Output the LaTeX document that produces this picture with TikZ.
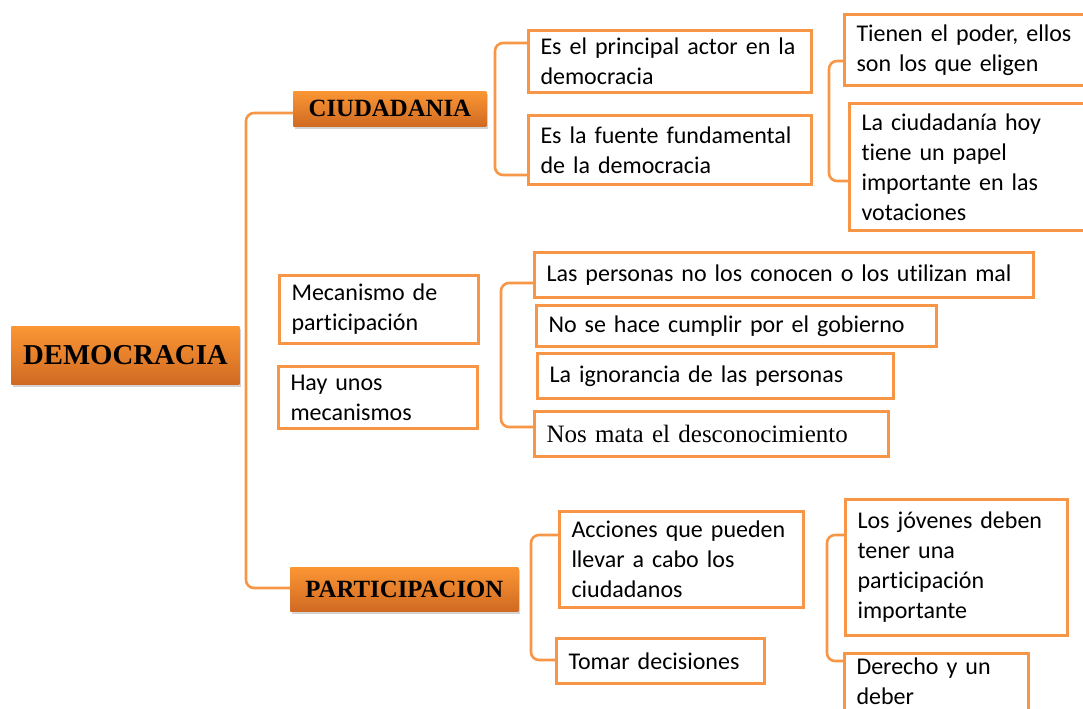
\documentclass[tikz,border=0pt]{standalone}
\usepackage{fontspec}
\setmainfont{Carlito}[Ligatures=NoCommon]
\newfontfamily\serifhd{Liberation Serif}
\usetikzlibrary{calc,shadows}
\definecolor{naranja}{RGB}{247,150,70}
\definecolor{naranjaclaro}{RGB}{251,150,52}
\definecolor{naranjaosc}{RGB}{208,106,34}

\begin{document}
\begin{tikzpicture}[x=0.5pt,y=-0.5pt,
    caja/.style={draw=naranja,line width=1.5pt,fill=white,anchor=north west,
        align=left,inner xsep=6pt,inner ysep=2pt,font=\fontsize{12}{15}\selectfont},
    titulo/.style={anchor=north west,top color=naranjaclaro,bottom color=naranjaosc,
        drop shadow={shadow xshift=1pt,shadow yshift=-1.5pt,opacity=.35},
        align=center,inner sep=0pt},
    enlace/.style={draw=naranja,line width=1.3pt,rounded corners=4pt}]
    \useasboundingbox (0,0) rectangle (1083,708);
    \clip (0,0) rectangle (1083,708);

    % titulos
    \node[titulo,minimum width=114pt,minimum height=29pt,
        font=\serifhd\bfseries\fontsize{14.4}{16}\selectfont] (dem) at (11,326) {DEMOCRACIA};
    \node[titulo,minimum width=96.5pt,minimum height=17.5pt,
        font=\serifhd\bfseries\fontsize{12.4}{14}\selectfont] (ciu) at (293,91) {CIUDADANIA};
    \node[titulo,minimum width=114pt,minimum height=22pt,
        font=\serifhd\bfseries\fontsize{12.4}{14}\selectfont] (par) at (290,567) {PARTICIPACION};

    % ciudadania
    \node[caja,text width=129.5pt,minimum height=31pt] (e1) at (527,29) {Es el principal actor en la\\democracia};
    \node[caja,text width=129.5pt,minimum height=34.5pt] (e2) at (527,114) {Es la fuente fundamental\\de la democracia};
    \node[caja,text width=113pt,minimum height=35.5pt] (t1) at (843,13) {Tienen el poder, ellos\\son los que eligen};
    \node[caja,text width=110.5pt,minimum height=63.5pt] (t2) at (848,102) {La ciudadanía hoy\\tiene un papel\\importante en las\\votaciones};

    % mecanismos
    \node[caja,text width=87.5pt,minimum height=34pt] (m1) at (278,274) {Mecanismo de\\participación};
    \node[caja,text width=87.5pt,minimum height=31pt] (m2) at (277,365) {Hay unos\\mecanismos};
    \node[caja,text width=237.5pt,minimum height=22.5pt] (p1) at (533,251) {Las personas no los conocen o los utilizan mal};
    \node[caja,text width=188pt,minimum height=20.5pt] (p2) at (535,304) {No se hace cumplir por el gobierno};
    \node[caja,text width=166pt,minimum height=22.5pt] (p3) at (536,352) {La ignorancia de las personas};
    \node[caja,text width=165pt,minimum height=22.5pt,
        font=\serifhd\fontsize{12.5}{15}\selectfont] (p4) at (533,410) {Nos mata el desconocimiento};

    % participacion
    \node[caja,text width=110pt,minimum height=48pt] (a1) at (558,510) {Acciones que pueden\\llevar a cabo los\\ciudadanos};
    \node[caja,text width=92pt,minimum height=22.5pt] (a2) at (555,637) {Tomar decisiones};
    \node[caja,text width=99pt,minimum height=68pt] (j1) at (844,498) {Los jóvenes deben\\tener una\\participación\\importante};
    \node[caja,text width=80pt] (j2) at (843,652) {Derecho y un\\deber\\~};

    % llaves
    \foreach \a/\da/\b/\db/\bx in {ciu/22/par/21/246, e1/14/e2/61/495, t1/48/t2/79/829,
                                   p1/32/p4/17/501, a1/25/a2/23/531, j1/37/j2/9/827}{
        \coordinate (bk) at (\bx,0);
        \path ($(\a.north west)+(0,\da)$) coordinate (s)
              ($(\b.north west)+(0,\db)$) coordinate (t);
        \draw[enlace] (s) -- (s -| bk) -- (t -| bk) -- (t);
    }
\end{tikzpicture}
\end{document}
